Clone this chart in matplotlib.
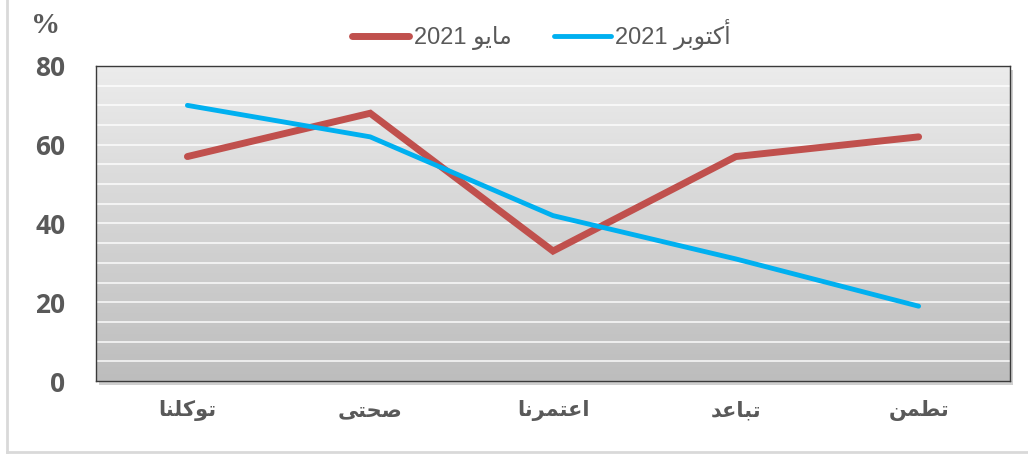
import numpy as np
import matplotlib
matplotlib.use("Agg")
from matplotlib import pyplot as plt
from matplotlib.colors import LinearSegmentedColormap
from matplotlib.patches import Rectangle

# data
categories = ["توكلنا", "صحتى", "اعتمرنا", "تباعد", "تطمن"]
may_2021 = [57, 68, 33, 57, 62]
oct_2021 = [70, 62, 42, 31, 19]
yticks = [0, 20, 40, 60, 80]

# matplotlib has no arabic shaping, so pick the presentation forms by hand
forms = {
    "ا": (0xFE8D, 0xFE8E, None, None),
    "أ": (0xFE83, 0xFE84, None, None),
    "ب": (0xFE8F, 0xFE90, 0xFE91, 0xFE92),
    "ت": (0xFE95, 0xFE96, 0xFE97, 0xFE98),
    "ح": (0xFEA1, 0xFEA2, 0xFEA3, 0xFEA4),
    "د": (0xFEA9, 0xFEAA, None, None),
    "ر": (0xFEAD, 0xFEAE, None, None),
    "ص": (0xFEB9, 0xFEBA, 0xFEBB, 0xFEBC),
    "ط": (0xFEC1, 0xFEC2, 0xFEC3, 0xFEC4),
    "ع": (0xFEC9, 0xFECA, 0xFECB, 0xFECC),
    "ك": (0xFED9, 0xFEDA, 0xFEDB, 0xFEDC),
    "ل": (0xFEDD, 0xFEDE, 0xFEDF, 0xFEE0),
    "م": (0xFEE1, 0xFEE2, 0xFEE3, 0xFEE4),
    "ن": (0xFEE5, 0xFEE6, 0xFEE7, 0xFEE8),
    "و": (0xFEED, 0xFEEE, None, None),
    "ى": (0xFEEF, 0xFEF0, None, None),
    "ي": (0xFEF1, 0xFEF2, 0xFEF3, 0xFEF4),
}


def ar(word):
    out = []
    for i, ch in enumerate(word):
        if ch not in forms:
            out.append(ch)
            continue
        prev = word[i - 1] if i > 0 else None
        nxt = word[i + 1] if i + 1 < len(word) else None
        jp = prev in forms and forms[prev][2] is not None
        jn = forms[ch][2] is not None and nxt in forms
        if jp and jn:
            code = forms[ch][3]
        elif jp:
            code = forms[ch][1]
        elif jn:
            code = forms[ch][2]
        else:
            code = forms[ch][0]
        out.append(chr(code))
    return "".join(reversed(out))


red = "#c0504d"
blue = "#00b0f0"
grey = "#595959"

fig = plt.figure(figsize=(10.28, 4.57), dpi=100)
fig.patch.set_facecolor("white")
ax = fig.add_axes([0.0934, 0.1663, 0.8891, 0.6893])

x = np.arange(len(categories))
ax.set_xlim(-0.5, len(categories) - 0.5)
ax.set_ylim(0, 80)

# shadow + gradient background
shadow = Rectangle((0.0934 + 0.003, 0.1663 - 0.008), 0.8891, 0.6893,
                   transform=fig.transFigure, facecolor="#b0b0b0", alpha=0.6,
                   edgecolor="none", zorder=-5)
fig.patches.append(shadow)
cmap = LinearSegmentedColormap.from_list("bg", ["#bdbdbd", "#ececec"])
grad = np.linspace(0, 1, 256).reshape(-1, 1)
ax.imshow(grad, cmap=cmap, origin="lower", aspect="auto",
          extent=[-0.5, len(categories) - 0.5, 0, 80], zorder=0)

for yy in range(5, 80, 5):
    ax.axhline(yy, color="white", lw=1.2, alpha=0.85, zorder=1)

ax.plot(x, may_2021, color=red, lw=5, solid_capstyle="round",
        solid_joinstyle="miter", zorder=3, label="2021 " + ar("مايو"))
ax.plot(x, oct_2021, color=blue, lw=3.5, solid_capstyle="round",
        zorder=4, label="2021 " + ar("أكتوبر"))

for s in ax.spines.values():
    s.set_color("#3a3a3a")
    s.set_linewidth(1.0)

ax.set_yticks(yticks)
ax.set_yticklabels([str(v) for v in yticks], fontsize=19, fontweight="bold",
                   family=["Open Sans", "DejaVu Sans"], color=grey)
ax.tick_params(axis="y", length=0, pad=22)
ax.set_xticks(x)
ax.set_xticklabels([ar(c) for c in categories], fontsize=15, fontweight="bold",
                   family="DejaVu Sans", color=grey)
ax.tick_params(axis="x", length=0, pad=14)

fig.text(0.044, 0.945, "%", fontsize=21, fontweight="bold",
         family="Liberation Serif", color=grey, ha="center", va="center")

leg = fig.legend(loc="center", bbox_to_anchor=(0.527, 0.925), ncol=2,
                 frameon=False, handlelength=2.4, columnspacing=1.8,
                 handletextpad=0.2,
                 prop={"family": ["Liberation Sans", "DejaVu Sans"], "size": 17})
for t in leg.get_texts():
    t.set_color(grey)

# light outer frame
fig.add_artist(plt.Line2D([0.007, 0.007], [0.01, 1.0], color="#d9d9d9", lw=2,
                          transform=fig.transFigure))
fig.add_artist(plt.Line2D([0.007, 1.0], [0.01, 0.01], color="#d9d9d9", lw=2,
                          transform=fig.transFigure))

fig.savefig("out.png", dpi=100)
